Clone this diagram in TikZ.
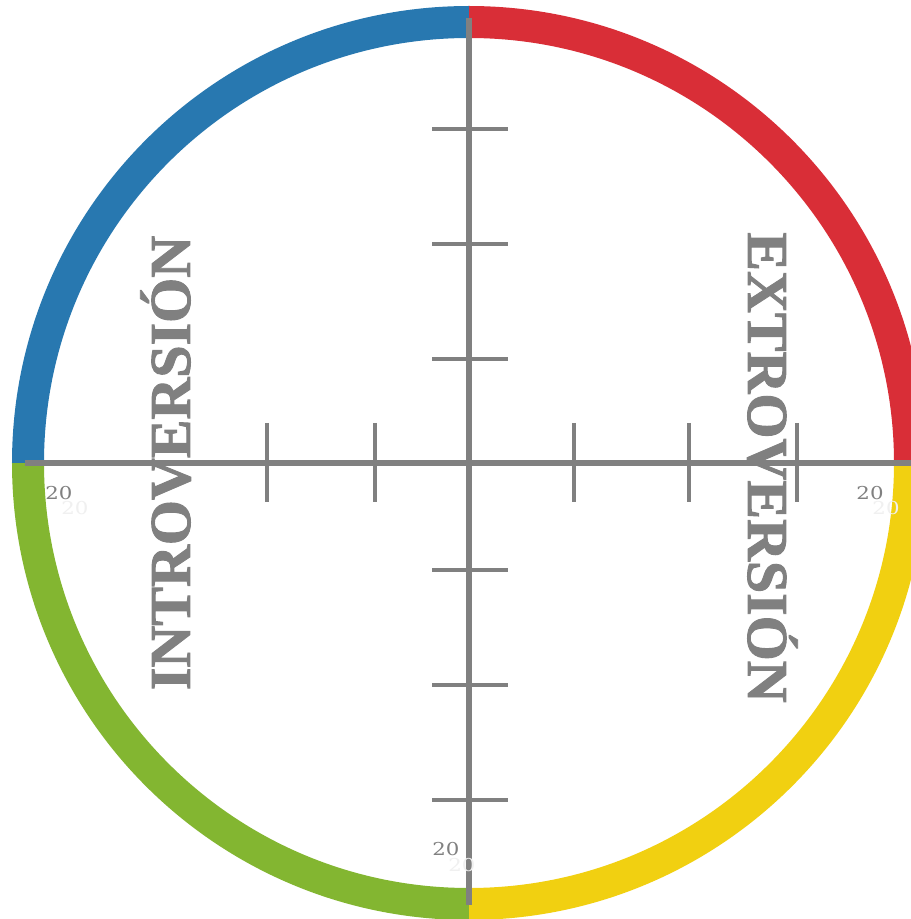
\documentclass[tikz,border=0pt]{standalone}
\usepackage{fontspec}
\setmainfont{Liberation Serif}
\newfontfamily\polefont{Liberation Serif Bold}[FakeBold=1.6]
\newfontfamily\numfont{DejaVu Serif}
\definecolor{ringblue}{HTML}{2878B0}
\definecolor{ringred}{HTML}{D92E37}
\definecolor{ringgreen}{HTML}{83B631}
\definecolor{ringyellow}{HTML}{F1D011}
\definecolor{axisgray}{HTML}{808080}
\definecolor{ghost}{HTML}{F0F0F0}

\begin{document}
\begin{tikzpicture}[x=0.02cm, y=0.02cm,
	ring/.style={line width=0.64cm},
	axis/.style={line width=0.12cm, draw=axisgray},
	tick/.style={line width=0.08cm, draw=axisgray},
	pole/.style={text=axisgray, font=\polefont\fontsize{33}{38}\selectfont, inner sep=0pt, anchor=base},
	num/.style={font=\numfont\fontsize{10.1}{12}\selectfont, inner sep=0pt, xscale=1.2}]
	\useasboundingbox[fill=white] (-469,-456) rectangle (441,463);
	% ring
	\draw[ring, ringred] (90:441) arc[start angle=90, end angle=0, radius=441];
	\draw[ring, ringblue] (90:441) arc[start angle=90, end angle=180, radius=441];
	\draw[ring, ringgreen] (180:441) arc[start angle=180, end angle=270, radius=441];
	\draw[ring, ringyellow] (270:441) arc[start angle=270, end angle=360, radius=441];
	% poles
	\node[pole, rotate=90] (intro) at (-279,0) {INTROVERSIÓN};
	\node[pole, rotate=-90] (extro) at (279,-4.5) {EXTROVERSIÓN};
	% axes
	\coordinate (west) at (-444,0);
	\coordinate (east) at (444,0);
	\coordinate (north) at (0,445);
	\coordinate (south) at (0,-442);
	\draw[axis] (west) -- (east);
	\draw[axis] (north) -- (south);
	\foreach \x in {-202,-94,105,220,328}
		\draw[tick] (\x,40) -- (\x,-39);
	\foreach \y in {334,219,104,-107,-222,-337}
		\draw[tick] (-37,\y) -- (39,\y);
	% values
	\node[num, text=ghost] (ghostw) at (-394,-45) {20};
	\node[num, text=ghost] (ghoste) at (417,-45) {20};
	\node[num, text=ghost] (ghosts) at (-7,-402) {20};
	\node[num, text=axisgray] (valw) at (-410,-30.5) {20};
	\node[num, text=axisgray] (vale) at (401,-30.5) {20};
	\node[num, text=axisgray] (vals) at (-23,-386.5) {20};
\end{tikzpicture}
\end{document}
